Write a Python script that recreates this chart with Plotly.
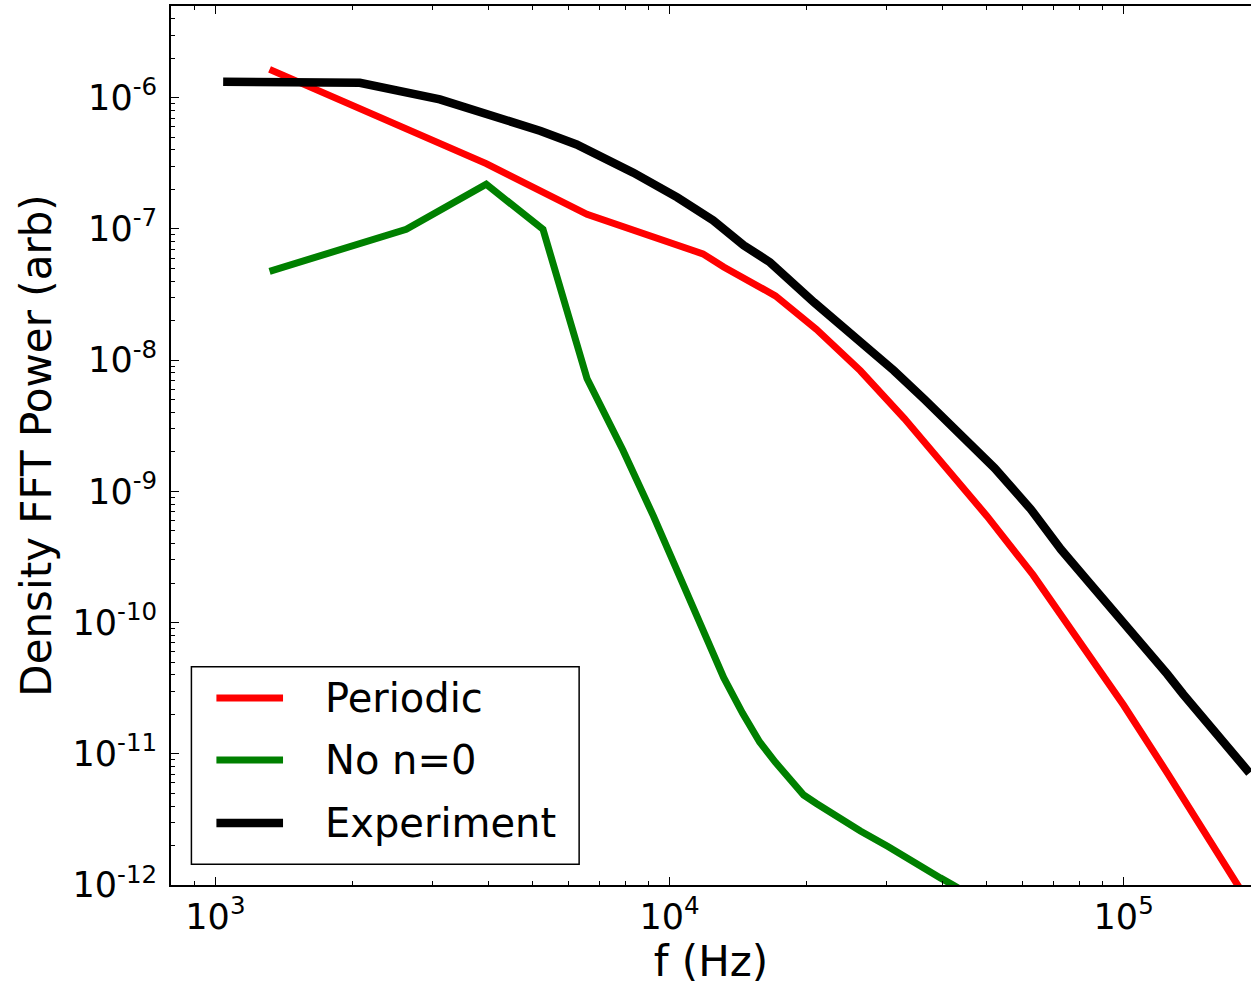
import plotly.graph_objects as go

# ---- data ----
# Periodic simulation: f = 1316 Hz * n
periodic_n = [1, 3, 5, 9, 10, 13, 16, 20, 25, 30, 38, 48, 60, 76, 95, 115, 138, 145]
periodic_logP = [-5.784, -6.502, -6.889, -7.19, -7.29, -7.51, -7.765, -8.081, -8.445,
                 -8.770, -9.189, -9.637, -10.114, -10.630, -11.151, -11.606, -12.045, -12.2]

# No n=0 simulation: f = 1316 Hz * n
non0_n = [1, 2, 3, 4, 5, 6, 7, 8, 9, 10, 11, 12, 13, 14, 15, 16, 18, 20, 23, 26, 30, 32, 35]
non0_logP = [-7.323, -7.003, -6.660, -7.003, -8.140, -8.687, -9.187, -9.653, -10.069,
             -10.42, -10.69, -10.91, -11.065, -11.203, -11.314, -11.379, -11.497,
             -11.589, -11.707, -11.823, -11.946, -12.0, -12.08]

# Experiment: f = 1040 Hz * k
exp_k = [1, 2, 3, 4, 5, 6, 8, 10, 12, 14, 16, 20, 25, 30, 35, 40, 45, 50, 60, 70, 80,
         90, 100, 110, 120, 130, 140, 150, 160, 170, 174, 177, 182]
exp_logP = [-5.878, -5.886, -6.013, -6.142, -6.253, -6.356, -6.571, -6.759, -6.935,
            -7.125, -7.254, -7.559, -7.836, -8.080, -8.298, -8.488, -8.663, -8.823,
            -9.135, -9.444, -9.680, -9.884, -10.057, -10.230, -10.394, -10.546,
            -10.678, -10.803, -10.925, -11.036, -11.07, -11.116, -11.146]

sim_df = 1316.0
exp_df = 1040.0

series_names = ["Periodic", "No n=0", "Experiment"]
series_colors = ["#ff0000", "#008000", "#000000"]

y_tickvals = [1e-12, 1e-11, 1e-10, 1e-9, 1e-8, 1e-7, 1e-6]
y_ticktext = ["10<sup>-12</sup>", "10<sup>-11</sup>", "10<sup>-10</sup>", "10<sup>-9</sup>",
              "10<sup>-8</sup>", "10<sup>-7</sup>", "10<sup>-6</sup>"]
x_tickvals = [1e3, 1e4, 1e5]
x_ticktext = ["10<sup>3</sup>", "10<sup>4</sup>", "10<sup>5</sup>"]

minor_mult = [2, 3, 4, 5, 6, 7, 8, 9]
x_minor = [m * 10 ** d for d in (2, 3, 4, 5) for m in minor_mult]
y_minor = [m * 10.0 ** d for d in (-12, -11, -10, -9, -8, -7, -6) for m in minor_mult]

# ---- figure ----
font_family = "DejaVu Sans"
fig = go.Figure()

xs = [
    [n * sim_df for n in periodic_n],
    [n * sim_df for n in non0_n],
    [k * exp_df for k in exp_k],
]
ys = [
    [10 ** v for v in periodic_logP],
    [10 ** v for v in non0_logP],
    [10 ** v for v in exp_logP],
]
widths = [7, 7, 8.5]

for name, color, x, y, w in zip(series_names, series_colors, xs, ys, widths):
    fig.add_trace(go.Scatter(x=x, y=y, mode="lines", name=name,
                             line=dict(color=color, width=w)))

# ---- legend box (drawn in paper coordinates, matplotlib style) ----
shapes = [dict(type="rect", xref="paper", yref="paper",
               x0=0.0189, x1=0.3779, y0=0.02355, y1=0.2484,
               line=dict(color="black", width=1.5), fillcolor="white", layer="above")]
annotations = []
row_y = [0.2127, 0.1422, 0.0705]
for name, color, w, ry in zip(series_names, series_colors, widths, row_y):
    shapes.append(dict(type="line", xref="paper", yref="paper",
                       x0=0.04205, x1=0.10373, y0=ry, y1=ry,
                       line=dict(color=color, width=w), layer="above"))
    annotations.append(dict(xref="paper", yref="paper", x=0.1405, y=ry,
                            xanchor="left", yanchor="middle", showarrow=False,
                            text=name, font=dict(size=40, family=font_family, color="black")))

fig.update_layout(
    width=1251, height=987,
    margin=dict(l=171, r=0, t=6, b=102),
    paper_bgcolor="white", plot_bgcolor="white",
    font=dict(family=font_family, color="black"),
    showlegend=False,
    shapes=shapes,
    annotations=annotations,
)

fig.update_xaxes(
    type="log", range=[2.9022, 5.2804],
    showline=True, linecolor="black", linewidth=1.8, mirror="ticks",
    ticks="inside", ticklen=8, tickwidth=1, tickcolor="black",
    tickvals=x_tickvals, ticktext=x_ticktext,
    tickfont=dict(size=35, family=font_family),
    showgrid=False, zeroline=False,
    minor=dict(ticks="inside", ticklen=4, tickwidth=1, tickcolor="black",
               showgrid=False, tickvals=x_minor),
    title=dict(text="f (Hz)", font=dict(size=42, family=font_family), standoff=8),
)
fig.update_yaxes(
    type="log", range=[-12, -5.301],
    showline=True, linecolor="black", linewidth=1.8, mirror=False,
    ticks="inside", ticklen=8, tickwidth=1, tickcolor="black",
    tickvals=y_tickvals, ticktext=y_ticktext,
    tickfont=dict(size=35, family=font_family),
    ticklabelstandoff=5,
    showgrid=False, zeroline=False,
    minor=dict(ticks="inside", ticklen=4, tickwidth=1, tickcolor="black",
               showgrid=False, tickvals=y_minor),
    title=dict(text="Density FFT Power (arb)", font=dict(size=42, family=font_family), standoff=8),
)

fig.write_html("out.html")
